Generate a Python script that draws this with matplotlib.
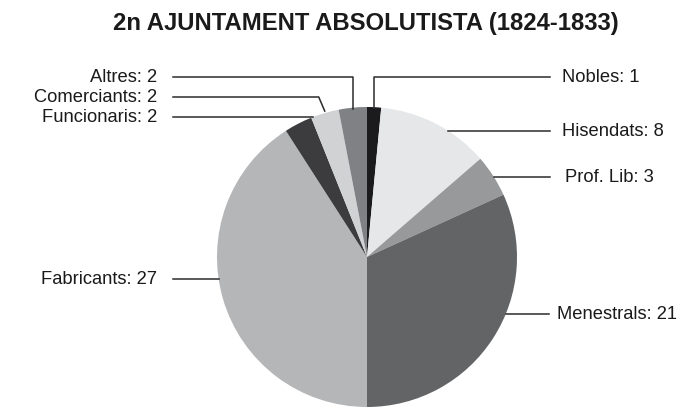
import numpy as np
import matplotlib
matplotlib.use("Agg")
import matplotlib.pyplot as plt

categories = ["Nobles", "Hisendats", "Prof. Lib", "Menestrals", "Fabricants",
              "Funcionaris", "Comerciants", "Altres"]
values = [1, 8, 3, 21, 27, 2, 2, 2]
colors = ["#1b1b1d", "#e6e7e8", "#98999b", "#636466", "#b5b6b8",
          "#3c3c3e", "#d1d2d4", "#808184"]
title = "2n AJUNTAMENT ABSOLUTISTA (1824-1833)"

plt.rcParams['font.family'] = ['Liberation Sans', 'DejaVu Sans']

W, H = 679, 410
fig = plt.figure(figsize=(W / 100, H / 100), dpi=100)
ax = fig.add_axes([0, 0, 1, 1])

cx, cy, R = 367, H - 258, 150
wedges, _ = ax.pie(values, colors=colors, startangle=90, counterclock=False,
                   center=(cx, cy), radius=R, frame=True,
                   wedgeprops=dict(linewidth=0))
ax.set_xlim(0, W)
ax.set_ylim(0, H)
ax.set_aspect('equal')
ax.axis('off')

# label layout: (side, label y in pixels from top, style, text x, line end x)
layout = {
    "Nobles": ("R", 78, "elbow", 562, 550),
    "Hisendats": ("R", 132, "h", 562, 550),
    "Prof. Lib": ("R", 178, "h", 565, 550),
    "Menestrals": ("R", 315, "h", 557, 549),
    "Fabricants": ("L", 280, "h", 157, 173),
    "Funcionaris": ("L", 118, "h", 157, 173),
    "Comerciants": ("L", 98, "elbow", 157, 173),
    "Altres": ("L", 78, "elbow", 157, 173),
}
lc = "#2b2b2b"
total = sum(values)
cum = 0
for cat, v, w in zip(categories, values, wedges):
    mid = 90 - (cum + v / 2) / total * 360
    cum += v
    side, ly, style, tx, x_end = layout[cat]
    yy = H - ly
    ha = "left" if side == "R" else "right"
    if style == "elbow":
        px = cx + R * np.cos(np.radians(mid))
        py = cy + R * np.sin(np.radians(mid))
        if cat == "Comerciants":
            ax.plot([x_end, px - 6, px], [yy, yy, py + 2], color=lc, lw=1.1)
        else:
            ax.plot([x_end, px, px], [yy, yy, py - 1], color=lc, lw=1.1)
    else:
        dy = yy - cy
        dx = np.sqrt(max(R ** 2 - dy ** 2, 0))
        px = cx + dx if side == "R" else cx - dx
        ax.plot([x_end, px], [yy, yy], color=lc, lw=1.1)
    ax.text(tx, yy, f"{cat}: {v}", ha=ha, va="center", fontsize=13.2,
            color="#1a1a1a", clip_on=False)

fig.text(366 / W, 1 - 30 / H, title, ha="center", va="baseline",
         fontsize=17.2, fontweight="bold", color="#1a1a1a")

fig.savefig("out.png", dpi=100, facecolor="white")
